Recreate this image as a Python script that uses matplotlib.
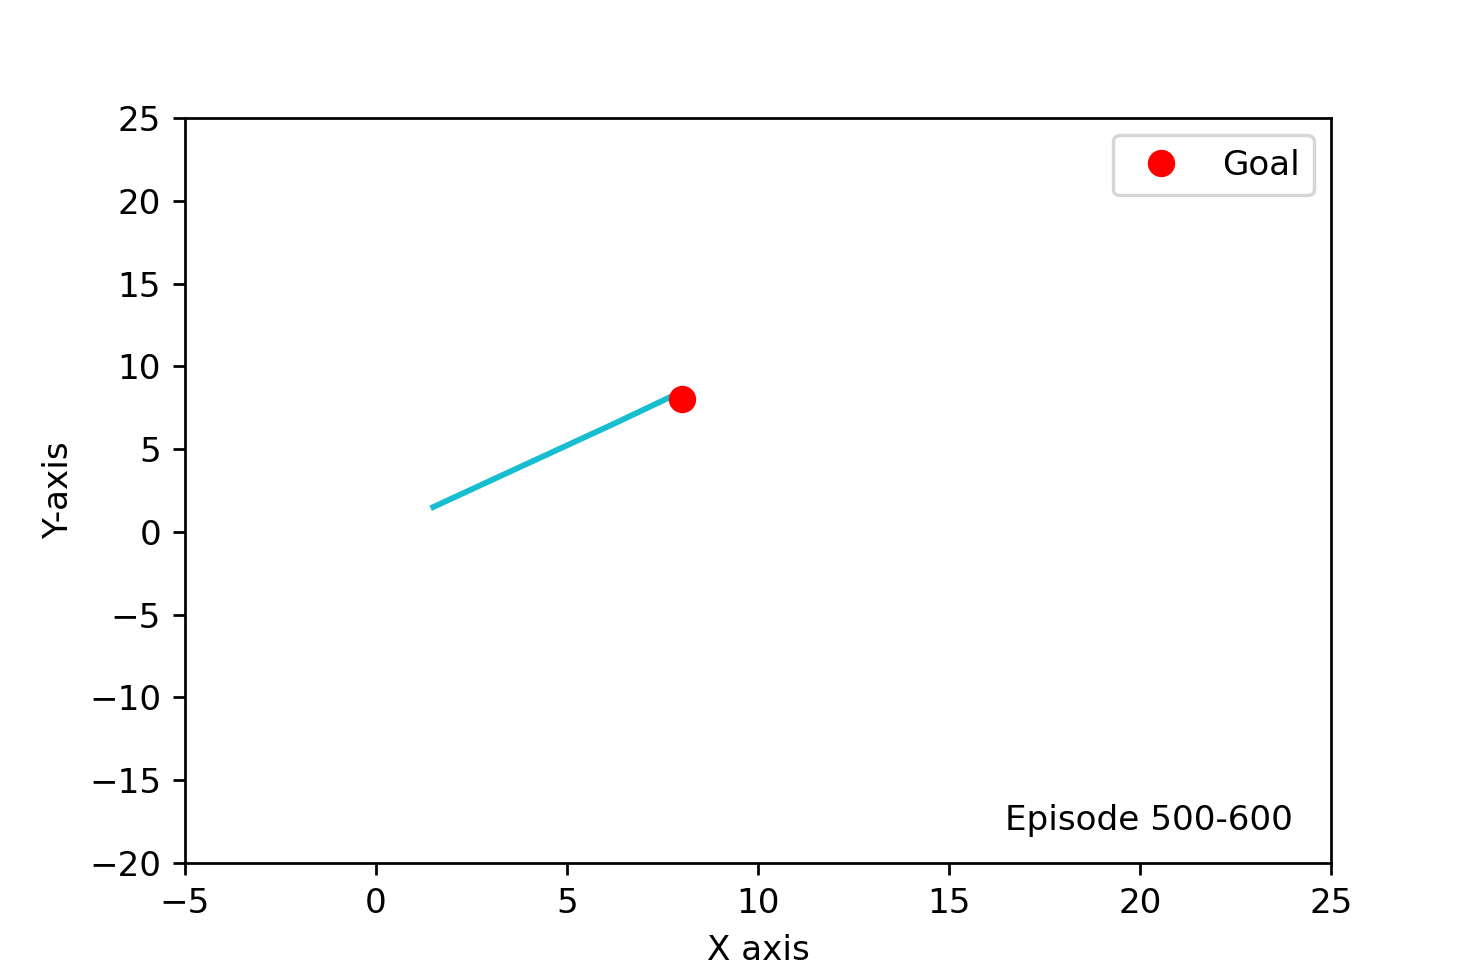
import matplotlib
matplotlib.use('Agg')
import matplotlib.pyplot as plt

# trajectory for this episode window
path_x = [1.5, 3.0, 4.6, 6.2, 7.8]
path_y = [1.5, 3.1, 4.8, 6.5, 8.25]
goal_x = [8]
goal_y = [8]
episode_label = 'Episode 500-600'

dpi = 246
fig = plt.figure(figsize=(1480 / dpi, 964 / dpi), dpi=dpi)
fig.subplots_adjust(left=0.125, right=0.8993, top=0.8776, bottom=0.1048)
ax = fig.add_subplot(111)

ax.plot(path_x, path_y, color='#17becf', linewidth=1.7)
ax.plot(goal_x, goal_y, 'o', color='red', markersize=7, label='Goal')

ax.text(24, -18, episode_label, ha='right')

ax.set_xlim(-5, 25)
ax.set_ylim(-20, 25)
ax.set_xlabel('X axis')
ax.set_ylabel('Y-axis')
ax.legend(loc='upper right')

fig.savefig('out.png', dpi=dpi)
